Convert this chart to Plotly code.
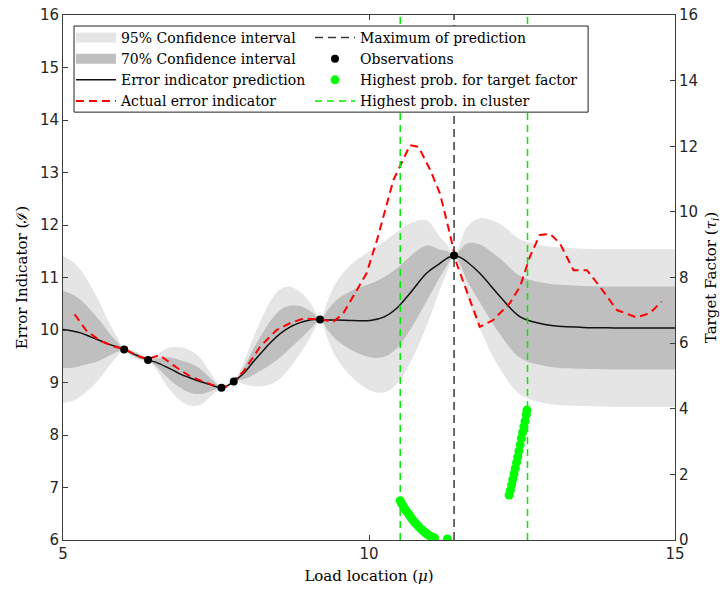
import plotly.graph_objects as go

# ---------------- data ----------------
x_grid = [5.00, 5.15, 5.30, 5.45, 5.60, 5.75, 5.88, 6.00, 6.10, 6.20, 6.30, 6.39,
          6.55, 6.72, 6.90, 7.07, 7.24, 7.40, 7.51, 7.59, 7.69, 7.79, 7.95, 8.10,
          8.25, 8.40, 8.55, 8.70, 8.85, 9.00, 9.10, 9.20, 9.33, 9.47, 9.74, 10.02,
          10.25, 10.45, 10.67, 10.94, 11.16, 11.28, 11.39, 11.50, 11.60, 11.81,
          12.14, 12.47, 12.90, 13.50, 14.00, 14.50, 15.00]
mean_pred = [10.01, 9.98, 9.94, 9.87, 9.80, 9.73, 9.68, 9.63, 9.57, 9.52, 9.47, 9.43,
             9.37, 9.28, 9.17, 9.09, 9.02, 8.96, 8.92, 8.90, 8.94, 9.02, 9.17, 9.38,
             9.58, 9.77, 9.93, 10.05, 10.13, 10.18, 10.20, 10.20, 10.19, 10.19, 10.18, 10.18,
             10.25, 10.41, 10.70, 11.08, 11.27, 11.37, 11.42, 11.38, 11.30, 11.08,
             10.64, 10.25, 10.10, 10.05, 10.04, 10.04, 10.04]
upper95 = [11.41, 11.31, 11.13, 10.85, 10.52, 10.15, 9.87, 9.63, 9.62, 9.59, 9.52, 9.43,
           9.54, 9.66, 9.67, 9.62, 9.47, 9.20, 9.01, 8.90, 8.98, 9.02, 9.37, 9.83,
           10.23, 10.57, 10.78, 10.83, 10.75, 10.58, 10.40, 10.20, 10.57, 10.92, 11.28, 11.51,
           11.69, 11.86, 12.03, 12.09, 11.77, 11.62, 11.42, 11.68, 11.96, 12.13,
           12.02, 11.73, 11.60, 11.55, 11.54, 11.54, 11.54]
lower95 = [8.61, 8.65, 8.75, 8.89, 9.08, 9.31, 9.49, 9.63, 9.52, 9.45, 9.42, 9.43,
           9.20, 8.90, 8.67, 8.56, 8.57, 8.72, 8.83, 8.90, 8.90, 9.02, 8.97, 8.93,
           8.93, 8.97, 9.08, 9.27, 9.51, 9.78, 10.00, 10.20, 9.81, 9.46, 9.08, 8.85,
           8.81, 8.96, 9.37, 10.07, 10.77, 11.12, 11.42, 11.08, 10.64, 10.03,
           9.26, 8.77, 8.60, 8.55, 8.54, 8.54, 8.54]
upper70 = [10.75, 10.68, 10.56, 10.38, 10.18, 9.95, 9.78, 9.63, 9.60, 9.56, 9.50, 9.43,
           9.46, 9.48, 9.43, 9.37, 9.26, 9.09, 8.97, 8.90, 8.96, 9.02, 9.28, 9.62,
           9.92, 10.19, 10.38, 10.46, 10.46, 10.39, 10.31, 10.20, 10.39, 10.57, 10.76, 10.88,
           11.01, 11.17, 11.40, 11.61, 11.53, 11.50, 11.42, 11.54, 11.65, 11.63,
           11.36, 11.03, 10.89, 10.84, 10.83, 10.83, 10.83]
lower70 = [9.27, 9.28, 9.32, 9.36, 9.42, 9.51, 9.58, 9.63, 9.54, 9.48, 9.44, 9.43,
           9.28, 9.08, 8.91, 8.81, 8.78, 8.83, 8.87, 8.90, 8.92, 9.02, 9.06, 9.14,
           9.24, 9.35, 9.48, 9.64, 9.80, 9.97, 10.09, 10.20, 9.99, 9.81, 9.60, 9.48,
           9.49, 9.65, 10.00, 10.55, 11.01, 11.24, 11.42, 11.22, 10.95, 10.53,
           9.92, 9.47, 9.31, 9.26, 9.25, 9.25, 9.25]

actual_x = [5.19, 5.38, 5.60, 5.82, 6.00, 6.25, 6.39, 6.58, 6.80, 7.07, 7.29, 7.51,
            7.67, 7.80, 7.95, 8.22, 8.49, 8.71, 8.93, 9.20, 9.42, 9.58, 9.74, 9.96,
            10.13, 10.40, 10.67, 10.81, 11.00, 11.16, 11.32, 11.43, 11.65, 11.81,
            12.03, 12.30, 12.47, 12.63, 12.79, 12.96, 13.12, 13.34, 13.56, 13.77,
            14.05, 14.37, 14.59, 14.78]
actual_y = [10.30, 9.99, 9.80, 9.69, 9.64, 9.49, 9.45, 9.52, 9.33, 9.12, 9.02, 8.92,
            8.92, 9.05, 9.21, 9.68, 10.00, 10.13, 10.22, 10.20, 10.16, 10.32, 10.63, 11.08,
            11.71, 12.86, 13.52, 13.49, 13.05, 12.60, 11.84, 11.27, 10.57, 10.06,
            10.19, 10.51, 10.83, 11.40, 11.81, 11.83, 11.65, 11.14, 11.14, 10.83,
            10.38, 10.24, 10.32, 10.54]

obs_x = [6.00, 6.39, 7.59, 7.79, 9.20, 11.39]
obs_y = [9.63, 9.43, 8.90, 9.02, 10.20, 11.42]

target_x = [10.51, 10.53, 10.56, 10.59, 10.62, 10.65, 10.68, 10.71, 10.74, 10.77,
            10.80, 10.83, 10.86, 10.89, 10.92, 10.95, 10.98, 11.01, 11.04, 11.07, 11.28,
            12.29, 12.31, 12.33, 12.35, 12.37, 12.39, 12.41, 12.43, 12.45, 12.47,
            12.49, 12.51, 12.53, 12.55, 12.57, 12.58]
target_y = [1.20, 1.12, 1.03, 0.94, 0.86, 0.78, 0.70, 0.62, 0.55, 0.49,
            0.43, 0.37, 0.32, 0.27, 0.22, 0.18, 0.14, 0.11, 0.08, 0.06, 0.03,
            1.37, 1.52, 1.68, 1.85, 2.02, 2.19, 2.36, 2.53, 2.71, 2.90,
            3.10, 3.28, 3.45, 3.62, 3.82, 3.96]

max_pred_x = [11.39]
cluster_x = [10.51, 12.59]

y_range = [6, 16]
y2_range = [0, 16]
x_range = [5, 15]
x_ticks = [5, 10, 15]
y_ticks = list(range(6, 17))
y2_ticks = list(range(0, 17, 2))

# ---------------- styles ----------------
LEG_FONT = dict(family="DejaVu Serif", size=14, color="#000000")
AX_COLOR = "#3c3c3c"
C95 = "#e5e5e5"
C70 = "#bfbfbf"


def vlines(xs):
    vx, vy = [], []
    for v in xs:
        vx += [v, v, None]
        vy += [y_range[0], y_range[1], None]
    return vx, vy


fig = go.Figure()

# 95% band
fig.add_trace(go.Scatter(x=x_grid, y=lower95, mode="lines", line=dict(width=0, shape="spline"),
                         showlegend=False, hoverinfo="skip"))
fig.add_trace(go.Scatter(x=x_grid, y=upper95, mode="lines", line=dict(width=0, shape="spline"),
                         fill="tonexty", fillcolor=C95, showlegend=False,
                         name="95% Confidence interval"))
# 70% band
fig.add_trace(go.Scatter(x=x_grid, y=lower70, mode="lines", line=dict(width=0, shape="spline"),
                         showlegend=False, hoverinfo="skip"))
fig.add_trace(go.Scatter(x=x_grid, y=upper70, mode="lines", line=dict(width=0, shape="spline"),
                         fill="tonexty", fillcolor=C70, showlegend=False,
                         name="70% Confidence interval"))
# legend swatches for the bands (box-like legend symbols)
fig.add_trace(go.Scatter(x=[None], y=[None], mode="lines", line=dict(color=C95, width=16),
                         name="95% Confidence interval", legend="legend", legendrank=1))
fig.add_trace(go.Scatter(x=[None], y=[None], mode="lines", line=dict(color=C70, width=16),
                         name="70% Confidence interval", legend="legend", legendrank=2))
# prediction
fig.add_trace(go.Scatter(x=x_grid, y=mean_pred, mode="lines",
                         line=dict(color="#111111", width=1.5, shape="spline"),
                         name="Error indicator prediction", legend="legend", legendrank=3))
# actual
fig.add_trace(go.Scatter(x=actual_x, y=actual_y, mode="lines",
                         line=dict(color="#ff0000", width=2, dash="8px,5px"),
                         name="Actual error indicator", legend="legend", legendrank=4))
# vertical lines
mx, my = vlines(max_pred_x)
fig.add_trace(go.Scatter(x=mx, y=my, mode="lines",
                         line=dict(color="#3a3a3a", width=1.5, dash="8px,5px"),
                         name="Maximum of prediction", legend="legend2", legendrank=5))
cx, cy = vlines(cluster_x)
fig.add_trace(go.Scatter(x=cx, y=cy, mode="lines",
                         line=dict(color="#00ee00", width=1.5, dash="7px,5px"),
                         name="Highest prob. in cluster", legend="legend2", legendrank=8))
# observations
fig.add_trace(go.Scatter(x=obs_x, y=obs_y, mode="markers",
                         marker=dict(color="#000000", size=8),
                         name="Observations", legend="legend2", legendrank=6))
# green target points (right axis)
fig.add_trace(go.Scatter(x=target_x, y=target_y, mode="markers", yaxis="y2",
                         marker=dict(color="#00ff00", size=9),
                         name="Highest prob. for target factor", legend="legend2", legendrank=7))

tickfont = dict(family="DejaVu Sans", size=15, color="#262626")
titlefont = dict(family="DejaVu Serif", size=15, color="#000000")

fig.update_layout(
    width=725, height=590,
    margin=dict(l=63, r=50, t=15, b=50, autoexpand=False),
    paper_bgcolor="white", plot_bgcolor="white",
    xaxis=dict(range=x_range, tickvals=x_ticks, ticks="inside", ticklen=5, tickcolor=AX_COLOR,
               showline=True, linecolor=AX_COLOR, linewidth=1, mirror="ticks",
               showgrid=False, zeroline=False, tickfont=tickfont, automargin=False,
               ticklabeloverflow="allow",
               title=dict(text="Load location (<i>μ</i>)", font=titlefont, standoff=8)),
    yaxis=dict(range=y_range, tickvals=y_ticks, ticks="inside", ticklen=5, tickcolor=AX_COLOR,
               showline=True, linecolor=AX_COLOR, linewidth=1, automargin=False,
               showgrid=False, zeroline=False, tickfont=tickfont, ticklabeloverflow="allow",
               title=dict(text="Error Indicator (ℐ)", font=titlefont, standoff=8)),
    yaxis2=dict(range=y2_range, tickvals=y2_ticks, ticks="inside", ticklen=5, tickcolor=AX_COLOR,
                overlaying="y", side="right", showline=True, linecolor=AX_COLOR, linewidth=1,
                showgrid=False, zeroline=False, tickfont=tickfont, automargin=False,
                ticklabeloverflow="allow",
                title=dict(text="Target Factor (<i>τ<sub>i</sub></i>)", font=titlefont, standoff=8)),
    legend=dict(x=0.013, y=0.987, xanchor="left", yanchor="top", font=LEG_FONT,
                bgcolor="rgba(0,0,0,0)", borderwidth=0, itemwidth=40, traceorder="normal",
                tracegroupgap=0),
    legend2=dict(x=0.4036, y=0.987, xanchor="left", yanchor="top", font=LEG_FONT,
                 bgcolor="rgba(0,0,0,0)", borderwidth=0, itemwidth=40, traceorder="normal",
                 tracegroupgap=0),
    shapes=[dict(type="rect", xref="paper", yref="paper", x0=0.018, x1=0.858,
                 y0=0.815, y1=0.979, line=dict(color="#222222", width=1),
                 fillcolor="white", layer="above")],
    showlegend=True,
)

# remove the default page margin so the figure sits at the window's top-left corner
fig.write_html("out.html", config={"displayModeBar": False},
               post_script="document.body.style.margin='0';")
